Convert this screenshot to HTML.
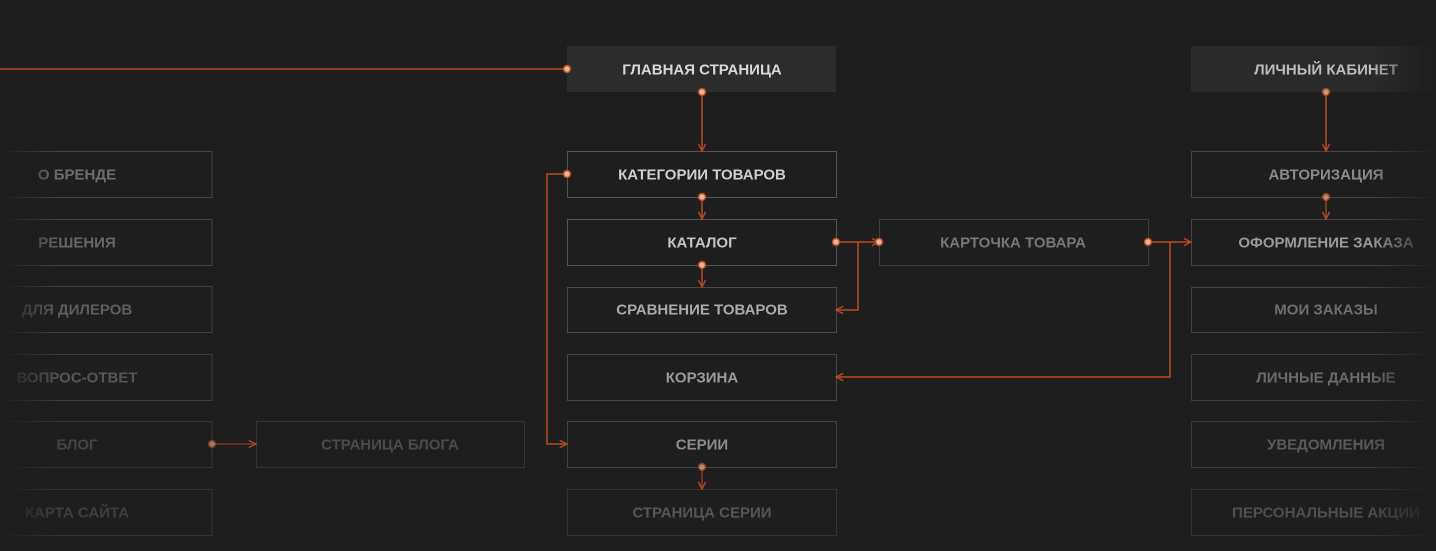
<!DOCTYPE html>
<html><head><meta charset="utf-8"><style>
html,body{margin:0;padding:0;background:#1e1e1e;}
svg{display:block}
text{font-family:"Liberation Sans",sans-serif;font-size:15px;font-weight:bold;text-anchor:middle;dominant-baseline:central}
</style></head><body>
<svg width="1436" height="551" viewBox="0 0 1436 551" xmlns="http://www.w3.org/2000/svg">
<defs>
<linearGradient id="fadeL" x1="0" x2="1"><stop offset="0" stop-color="#1e1e1e" stop-opacity="1"/><stop offset="1" stop-color="#1e1e1e" stop-opacity="0"/></linearGradient>
<linearGradient id="fadeR" x1="0" x2="1"><stop offset="0" stop-color="#1e1e1e" stop-opacity="0"/><stop offset="1" stop-color="#1e1e1e" stop-opacity="1"/></linearGradient>
<marker id="ar" viewBox="0 0 10 10" refX="9" refY="5" markerWidth="9" markerHeight="9" orient="auto" markerUnits="userSpaceOnUse"><path d="M1,1 L9,5 L1,9" fill="none" stroke="#b84a22" stroke-width="1.5"/></marker>
</defs>
<rect width="1436" height="551" fill="#1e1e1e"/>
<!-- filled boxes -->
<rect x="567" y="46" width="269" height="46" fill="#2c2c2c"/>
<text x="702" y="70" fill="#d8d8d8">ГЛАВНАЯ СТРАНИЦА</text>
<rect x="1191" y="46" width="245" height="46" fill="#2a2a2a"/>
<text x="1326" y="70" fill="#bcbcbc">ЛИЧНЫЙ КАБИНЕТ</text>
<g fill="none" stroke-width="1">
<!-- center column -->
<rect x="567.5" y="151.5" width="269" height="46" stroke="#555"/>
<rect x="567.5" y="219.5" width="269" height="46" stroke="#555"/>
<rect x="567.5" y="287.5" width="269" height="45" stroke="#4a4a4a"/>
<rect x="567.5" y="354.5" width="269" height="46" stroke="#464646"/>
<rect x="567.5" y="421.5" width="269" height="46" stroke="#424242"/>
<rect x="567.5" y="489.5" width="269" height="46" stroke="#333"/>
<rect x="879.5" y="219.5" width="269" height="46" stroke="#3e3e3e"/>
<!-- left column -->
<rect x="-5" y="151.5" width="217" height="46" stroke="#444"/>
<rect x="-5" y="219.5" width="217" height="46" stroke="#444"/>
<rect x="-5" y="286.5" width="217" height="46" stroke="#404040"/>
<rect x="-5" y="354.5" width="217" height="46" stroke="#3c3c3c"/>
<rect x="-5" y="421.5" width="217" height="46" stroke="#363636"/>
<rect x="-5" y="489.5" width="217" height="46" stroke="#333"/>
<rect x="256.5" y="421.5" width="268" height="46" stroke="#363636"/>
<!-- right column -->
<rect x="1191.5" y="151.5" width="260" height="46" stroke="#454545"/>
<rect x="1191.5" y="219.5" width="260" height="46" stroke="#454545"/>
<rect x="1191.5" y="287.5" width="260" height="45" stroke="#424242"/>
<rect x="1191.5" y="354.5" width="260" height="46" stroke="#3e3e3e"/>
<rect x="1191.5" y="421.5" width="260" height="46" stroke="#3a3a3a"/>
<rect x="1191.5" y="489.5" width="260" height="46" stroke="#333"/>
</g>
<text x="702" y="175" fill="#cfcfcf">КАТЕГОРИИ ТОВАРОВ</text>
<text x="702" y="243" fill="#c4c4c4">КАТАЛОГ</text>
<text x="702" y="310" fill="#aaa">СРАВНЕНИЕ ТОВАРОВ</text>
<text x="702" y="378" fill="#9a9a9a">КОРЗИНА</text>
<text x="702" y="445" fill="#8e8e8e">СЕРИИ</text>
<text x="702" y="513" fill="#555">СТРАНИЦА СЕРИИ</text>
<text x="1013" y="243" fill="#777">КАРТОЧКА ТОВАРА</text>
<text x="77" y="175" fill="#6e6e6e">О БРЕНДЕ</text>
<text x="77" y="243" fill="#666">РЕШЕНИЯ</text>
<text x="77" y="310" fill="#5e5e5e">ДЛЯ ДИЛЕРОВ</text>
<text x="77" y="378" fill="#555">ВОПРОС-ОТВЕТ</text>
<text x="77" y="445" fill="#444">БЛОГ</text>
<text x="77" y="513" fill="#3e3e3e">КАРТА САЙТА</text>
<text x="390" y="445" fill="#4a4a4a">СТРАНИЦА БЛОГА</text>
<text x="1326" y="175" fill="#8a8a8a">АВТОРИЗАЦИЯ</text>
<text x="1326" y="243" fill="#9a9a9a">ОФОРМЛЕНИЕ ЗАКАЗА</text>
<text x="1326" y="310" fill="#6e6e6e">МОИ ЗАКАЗЫ</text>
<text x="1326" y="378" fill="#6a6a6a">ЛИЧНЫЕ ДАННЫЕ</text>
<text x="1326" y="445" fill="#5a5a5a">УВЕДОМЛЕНИЯ</text>
<text x="1326" y="513" fill="#4e4e4e">ПЕРСОНАЛЬНЫЕ АКЦИИ</text>
<!-- connectors -->
<g stroke="#b84a22" stroke-width="1.5" fill="none">
<line x1="0" y1="69" x2="567" y2="69"/>
<line x1="702" y1="92" x2="702" y2="151" marker-end="url(#ar)"/>
<line x1="702" y1="197" x2="702" y2="219" marker-end="url(#ar)"/>
<line x1="702" y1="265" x2="702" y2="287" marker-end="url(#ar)"/>
<line x1="836" y1="242" x2="879" y2="242" marker-end="url(#ar)"/>
<polyline points="858,242 858,310 836,310" marker-end="url(#ar)"/>
<polyline points="1170,242 1170,377 836,377" marker-end="url(#ar)"/>
<line x1="1148" y1="242" x2="1191" y2="242" marker-end="url(#ar)"/>
<polyline points="567,174 547,174 547,444 567,444" marker-end="url(#ar)"/>
<line x1="702" y1="467" x2="702" y2="489" marker-end="url(#ar)" stroke-opacity="0.7"/>
<line x1="212" y1="444" x2="256" y2="444" marker-end="url(#ar)" stroke-opacity="0.6"/>
<line x1="1326" y1="92" x2="1326" y2="151" marker-end="url(#ar)"/>
<line x1="1326" y1="197" x2="1326" y2="219" marker-end="url(#ar)" stroke-opacity="0.8"/>
</g>
<g fill="#e8b49a" stroke="#b84a22" stroke-width="1.5">
<circle cx="567" cy="69" r="3.5"/>
<circle cx="702" cy="92" r="3.5"/>
<circle cx="702" cy="197" r="3.5"/>
<circle cx="702" cy="265" r="3.5"/>
<circle cx="836" cy="242" r="3.5"/>
<circle cx="879" cy="242" r="3.5"/>
<circle cx="1148" cy="242" r="3.5"/>
<circle cx="567" cy="174" r="3.5"/>
<circle cx="702" cy="467" r="3.5" opacity="0.7"/>
<circle cx="212" cy="444" r="3.5" opacity="0.6"/>
<circle cx="1326" cy="92" r="3.5" opacity="0.8"/>
<circle cx="1326" cy="197" r="3.5" opacity="0.7"/>
</g>
<rect x="0" y="140" width="60" height="411" fill="url(#fadeL)"/>
<rect x="1370" y="0" width="66" height="551" fill="url(#fadeR)"/>
</svg>
</body></html>
